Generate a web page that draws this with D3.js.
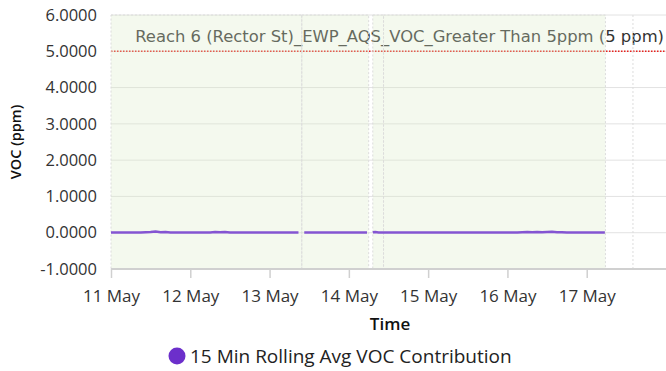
<!DOCTYPE html>
<html>
<head>
<meta charset="utf-8">
<script src="https://cdn.jsdelivr.net/npm/d3@7"></script>
<style>
  html, body { margin: 0; padding: 0; background: #fff; }
  svg { display: block; font-family: "Open Sans", "DejaVu Sans", sans-serif; }
</style>
</head>
<body>
<svg id="chart" width="666" height="371"></svg>
<script>
// ---- data ----
const seriesName = "15 Min Rolling Avg VOC Contribution";
const thresholdLabel = "Reach 6 (Rector St)_EWP_AQS_VOC_Greater Than 5ppm";
const thresholdValue = 5;
const thresholdUnit = "(5 ppm)";

// sample timestamps and VOC readings (ppm); null = no data
const sampleTimes = [
  "2024-05-11T00:00", "2024-05-11T03:00", "2024-05-11T06:00", "2024-05-11T09:00",
  "2024-05-11T12:00", "2024-05-11T13:30", "2024-05-11T15:00", "2024-05-11T16:30",
  "2024-05-11T18:00", "2024-05-11T21:00", "2024-05-12T00:00", "2024-05-12T03:00",
  "2024-05-12T06:00", "2024-05-12T07:30", "2024-05-12T09:00", "2024-05-12T10:30",
  "2024-05-12T12:00", "2024-05-12T15:00", "2024-05-12T18:00", "2024-05-12T21:00",
  "2024-05-13T00:00", "2024-05-13T03:00", "2024-05-13T06:00", "2024-05-13T08:45",
  "2024-05-13T09:30", "2024-05-13T10:30", "2024-05-13T13:00", "2024-05-13T16:00",
  "2024-05-13T19:00", "2024-05-13T22:00", "2024-05-14T01:00", "2024-05-14T04:00",
  "2024-05-14T05:30", "2024-05-14T06:15", "2024-05-14T07:15", "2024-05-14T08:00",
  "2024-05-14T09:00", "2024-05-14T12:00", "2024-05-14T15:00", "2024-05-14T18:00",
  "2024-05-14T21:00", "2024-05-15T00:00", "2024-05-15T03:00", "2024-05-15T06:00",
  "2024-05-15T09:00", "2024-05-15T12:00", "2024-05-15T15:00", "2024-05-15T18:00",
  "2024-05-15T21:00", "2024-05-16T00:00", "2024-05-16T03:00", "2024-05-16T04:30",
  "2024-05-16T06:00", "2024-05-16T07:30", "2024-05-16T09:00", "2024-05-16T10:30",
  "2024-05-16T12:00", "2024-05-16T13:30", "2024-05-16T15:00", "2024-05-16T16:30",
  "2024-05-16T18:00", "2024-05-16T21:00", "2024-05-17T00:00", "2024-05-17T03:00",
  "2024-05-17T05:30"
];
const vocValues = [
  0.004, 0.005, 0.004, 0.006,
  0.018, 0.030, 0.012, 0.020,
  0.006, 0.005, 0.004, 0.005,
  0.008, 0.018, 0.014, 0.020,
  0.008, 0.005, 0.004, 0.005,
  0.004, 0.005, 0.004, 0.004,
  null, 0.006, 0.004, 0.005,
  0.004, 0.005, 0.004, 0.005,
  0.004, null, 0.010, 0.020,
  0.006, 0.005, 0.004, 0.006,
  0.005, 0.004, 0.005, 0.004,
  0.006, 0.005, 0.004, 0.005,
  0.004, 0.005, 0.006, 0.014,
  0.020, 0.012, 0.022, 0.014,
  0.018, 0.024, 0.012, 0.016,
  0.008, 0.005, 0.004, 0.005,
  0.004
];

// shaded monitoring periods [start, end]
const periodStarts = ["2024-05-11T00:00", "2024-05-13T09:45", "2024-05-14T07:15", "2024-05-14T10:30"];
const periodEnds   = ["2024-05-13T09:45", "2024-05-14T06:00", "2024-05-14T10:30", "2024-05-17T05:40"];
const markerTimes  = ["2024-05-17T14:00"];

const yTicks = [-1, 0, 1, 2, 3, 4, 5, 6];
const xTickDays = ["2024-05-11", "2024-05-12", "2024-05-13", "2024-05-14", "2024-05-15", "2024-05-16", "2024-05-17"];
const xDomain = ["2024-05-11T00:00", "2024-05-18T00:00"];

// ---- layout ----
const parse = d3.timeParse("%Y-%m-%dT%H:%M");
const parseDay = d3.timeParse("%Y-%m-%d");
const svg = d3.select("#chart");
const plot = { left: 111, right: 666, top: 15, bottom: 269 };

const x = d3.scaleTime().domain(xDomain.map(parse)).range([plot.left, plot.right]);
const y = d3.scaleLinear().domain([-1, 6]).range([plot.bottom, plot.top]);

const points = sampleTimes.map((t, i) => ({ t: parse(t), v: vocValues[i] }));

// horizontal gridlines
svg.append("g").selectAll("line").data(yTicks).join("line")
  .attr("x1", plot.left).attr("x2", plot.right)
  .attr("y1", d => y(d)).attr("y2", d => y(d))
  .attr("stroke", "#e2e2e2").attr("stroke-width", 1);

// y tick labels (plain hyphen for negatives)
const fmt4 = d3.formatLocale({ decimal: ".", thousands: ",", grouping: [3], currency: ["", ""], minus: "-" }).format(".4f");
svg.append("g").selectAll("text").data(yTicks).join("text")
  .attr("x", 97).attr("y", d => y(d)).attr("dy", "0.35em")
  .attr("text-anchor", "end")
  .attr("font-size", 16.5).attr("fill", "#333")
  .text(d => fmt4(d));

// y axis title
svg.append("text")
  .attr("transform", `translate(21,${(plot.top + plot.bottom) / 2}) rotate(-90)`)
  .attr("text-anchor", "middle").attr("font-size", 14.5).attr("font-weight", 600)
  .attr("fill", "#111").text("VOC (ppm)");

// threshold line and label
svg.append("line")
  .attr("x1", plot.left).attr("x2", plot.right)
  .attr("y1", y(thresholdValue)).attr("y2", y(thresholdValue))
  .attr("stroke", "#e8201c").attr("stroke-width", 1.5).attr("stroke-dasharray", "1.5,1.5");

const tl = svg.append("text")
  .attr("x", 664).attr("y", y(thresholdValue) - 9)
  .attr("text-anchor", "end")
  .attr("font-family", "DejaVu Sans, sans-serif").attr("font-size", 16.4).attr("fill", "#333");
tl.append("tspan").text(thresholdLabel + " ");
tl.append("tspan").text(thresholdUnit);

// monitoring period bands (translucent, drawn over the threshold label)
const periods = periodStarts.map((s, i) => ({ s: parse(s), e: parse(periodEnds[i]) }));
svg.append("g").selectAll("rect").data(periods).join("rect")
  .attr("x", d => x(d.s)).attr("width", d => x(d.e) - x(d.s))
  .attr("y", plot.top).attr("height", plot.bottom - plot.top)
  .attr("fill", "rgb(218,236,200)").attr("fill-opacity", 0.3)
  .attr("stroke", "#dcdcdc").attr("stroke-dasharray", "2,2").attr("stroke-width", 1);

// vertical event markers
svg.append("g").selectAll("line").data(markerTimes).join("line")
  .attr("x1", d => x(parse(d))).attr("x2", d => x(parse(d)))
  .attr("y1", plot.top).attr("y2", plot.bottom)
  .attr("stroke", "#dcdcdc").attr("stroke-dasharray", "2,2");

// x axis
const xAxis = d3.axisBottom(x)
  .tickValues(xTickDays.map(parseDay))
  .tickFormat(d3.timeFormat("%-d %b"))
  .tickSize(9).tickPadding(12);
const gx = svg.append("g").attr("transform", `translate(0,${plot.bottom})`).call(xAxis);
gx.select(".domain").attr("stroke", "#d0d0d0").attr("stroke-width", 2)
  .attr("d", `M${plot.left},0H${plot.right}`);
gx.selectAll(".tick line").attr("stroke", "#d0d0d0").attr("stroke-width", 1.5);
gx.selectAll(".tick text").attr("font-size", 17).attr("fill", "#333")
  .attr("font-family", "Open Sans, sans-serif");

svg.append("text")
  .attr("x", 390).attr("y", 330).attr("text-anchor", "middle")
  .attr("font-size", 17).attr("font-weight", 600).attr("fill", "#111").text("Time");

// data line
const line = d3.line()
  .defined(d => d.v !== null)
  .x(d => x(d.t)).y(d => y(d.v));
svg.append("path").datum(points)
  .attr("d", line).attr("fill", "none")
  .attr("stroke", "#8455d2").attr("stroke-width", 2.5);

// legend
const lg = svg.append("g").attr("transform", "translate(177,356)");
lg.append("circle").attr("r", 8.5).attr("fill", "#6c2fcb");
lg.append("text").attr("x", 13).attr("dy", "0.36em")
  .attr("font-size", 19).attr("fill", "#222").text(seriesName);
</script>
</body>
</html>
